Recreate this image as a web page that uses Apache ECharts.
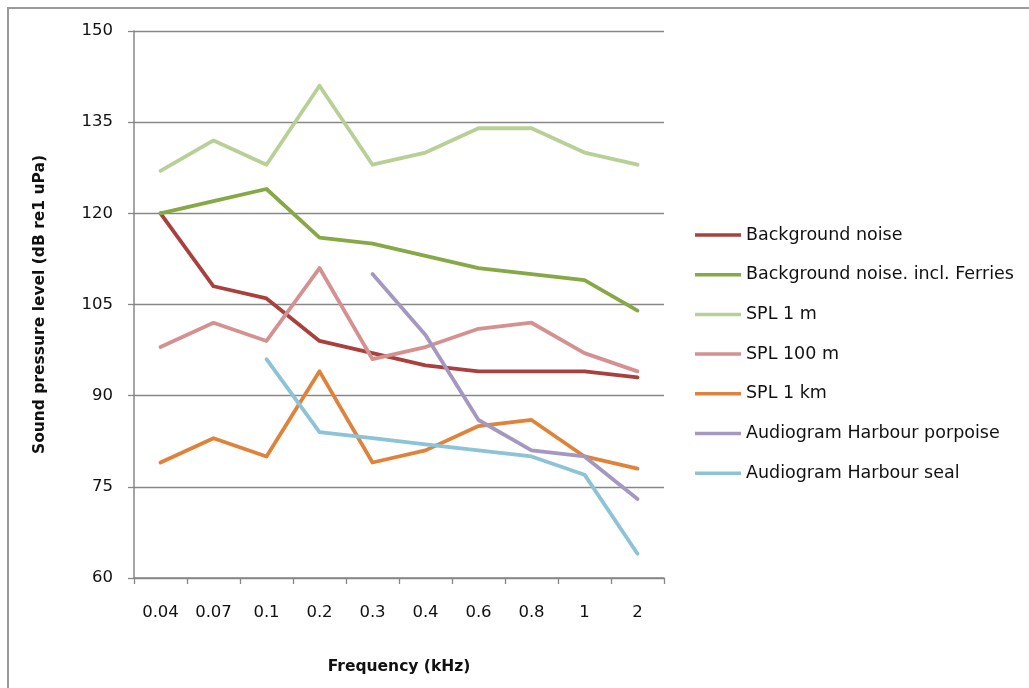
<!DOCTYPE html>
<html>
<head>
<meta charset="utf-8">
<script src="https://cdn.jsdelivr.net/npm/echarts@6/dist/echarts.min.js"></script>
<style>
  html, body { margin: 0; padding: 0; background: #fff; }
  #frame { position: absolute; left: 7px; top: 7px; width: 1022px; height: 681px;
           border-left: 2px solid #9a9a9a; border-top: 2px solid #9a9a9a; box-sizing: border-box; }
  #chart { position: absolute; left: 0; top: 0; width: 1029px; height: 688px; }
</style>
</head>
<body>
<div id="frame"></div>
<div id="chart"></div>
<script>
// Frequency bands (kHz)
const frequencies = ['0.04', '0.07', '0.1', '0.2', '0.3', '0.4', '0.6', '0.8', '1', '2'];

// Sound pressure levels, dB re 1 uPa
const backgroundNoise       = [120, 108, 106, 99, 97, 95, 94, 94, 94, 93];
const backgroundNoiseFerry  = [120, 122, 124, 116, 115, 113, 111, 110, 109, 104];
const spl1m                 = [127, 132, 128, 141, 128, 130, 134, 134, 130, 128];
const spl100m               = [98, 102, 99, 111, 96, 98, 101, 102, 97, 94];
const spl1km                = [79, 83, 80, 94, 79, 81, 85, 86, 80, 78];
const audiogramPorpoise     = [null, null, null, null, 110, 100, 86, 81, 80, 73];
const audiogramSeal         = [null, null, 96, 84, 83, 82, 81, 80, 77, 64];

// Value axis ticks
const yTicks = [60, 75, 90, 105, 120, 135, 150];

const FONT = '"DejaVu Sans", "Open Sans", sans-serif';
const GRAY = '#878787';

const seriesDefs = [
  { name: 'Background noise', data: backgroundNoise, color: '#A9403D' },
  { name: 'Background noise. incl. Ferries', data: backgroundNoiseFerry, color: '#86A845' },
  { name: 'SPL 1 m', data: spl1m, color: '#B8D096' },
  { name: 'SPL 100 m', data: spl100m, color: '#D49190' },
  { name: 'SPL 1 km', data: spl1km, color: '#DF823A' },
  { name: 'Audiogram Harbour porpoise', data: audiogramPorpoise, color: '#A497C0' },
  { name: 'Audiogram Harbour seal', data: audiogramSeal, color: '#8CC3D7' }
];

const chart = echarts.init(document.getElementById('chart'), null, { renderer: 'canvas' });

chart.setOption({
  animation: false,
  backgroundColor: 'transparent',
  grid: { left: 134, right: 365, top: 31, bottom: 110, containLabel: false },
  legend: {
    orient: 'vertical',
    left: 690,
    top: 221,
    itemWidth: 46,
    itemHeight: 3.5,
    itemGap: 21.7,
    icon: 'rect',
    textStyle: { fontFamily: FONT, fontSize: 17.5, lineHeight: 16, color: '#111', padding: [0, 0, 0, 0] },
    data: seriesDefs.map(s => s.name)
  },
  xAxis: {
    type: 'category',
    data: frequencies,
    boundaryGap: true,
    name: 'Frequency (kHz)',
    nameLocation: 'middle',
    nameGap: 81,
    nameTextStyle: { fontFamily: FONT, fontSize: 15.5, fontWeight: 'bold', color: '#111' },
    axisLine: { lineStyle: { color: GRAY, width: 1.5 } },
    axisTick: { show: true, alignWithLabel: false, length: 6, lineStyle: { color: GRAY, width: 1.3 } },
    axisLabel: { fontFamily: FONT, fontSize: 16.5, color: '#111', margin: 26 },
    splitLine: { show: false }
  },
  yAxis: {
    type: 'value',
    min: yTicks[0],
    max: yTicks[yTicks.length - 1],
    interval: 15,
    name: 'Sound pressure level (dB re1 uPa)',
    nameLocation: 'middle',
    nameGap: 86,
    nameRotate: 90,
    nameTextStyle: { fontFamily: FONT, fontSize: 15.5, fontWeight: 'bold', color: '#111' },
    axisLine: { show: true, lineStyle: { color: GRAY, width: 1.5 } },
    axisTick: { show: true, inside: false, length: 6, lineStyle: { color: GRAY, width: 1.3 } },
    axisLabel: { fontFamily: FONT, fontSize: 16.5, color: '#111', margin: 21 },
    splitLine: { show: true, lineStyle: { color: GRAY, width: 1.3 } }
  },
  series: seriesDefs.map(s => ({
    name: s.name,
    type: 'line',
    data: s.data,
    connectNulls: false,
    symbol: 'none',
    showSymbol: false,
    itemStyle: { color: s.color },
    lineStyle: { color: s.color, width: 3.8, cap: 'round', join: 'round' }
  }))
});
</script>
</body>
</html>
